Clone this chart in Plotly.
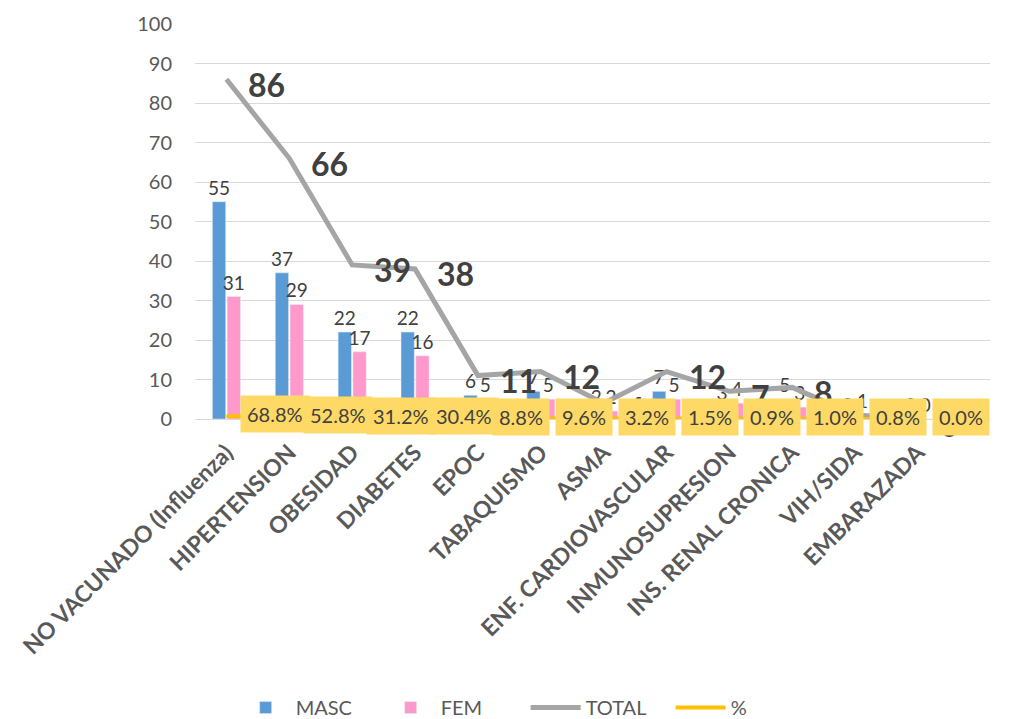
import plotly.graph_objects as go

categories = ["NO VACUNADO (Influenza)", "HIPERTENSION", "OBESIDAD", "DIABETES", "EPOC",
              "TABAQUISMO", "ASMA", "ENF. CARDIOVASCULAR", "INMUNOSUPRESION",
              "INS. RENAL CRONICA", "VIH/SIDA", "EMBARAZADA"]
masc = [55, 37, 22, 22, 6, 7, 2, 7, 3, 5, 0, 0]
fem = [31, 29, 17, 16, 5, 5, 2, 5, 4, 3, 1, 0]
total = [86, 66, 39, 38, 11, 12, 4, 12, 7, 8, 1, 0]
pct = [68.8, 52.8, 31.2, 30.4, 8.8, 9.6, 3.2, 1.5, 0.9, 1.0, 0.8, 0.0]
y_ticks = [0, 10, 20, 30, 40, 50, 60, 70, 80, 90, 100]

FONT = "Lato, 'Open Sans', sans-serif"
TXT = "#404040"
AX = "#595959"

fig = go.Figure()
fig.add_trace(go.Bar(x=categories, y=masc, name="MASC", marker_color="#5B9BD5",
                     text=masc, textposition="outside", cliponaxis=False, constraintext="none",
                     textfont=dict(size=19, color=TXT, family=FONT)))
fig.add_trace(go.Bar(x=categories, y=fem, name="FEM", marker_color="#FF99CC",
                     text=fem, textposition="outside", cliponaxis=False, constraintext="none",
                     textfont=dict(size=19, color=TXT, family=FONT)))
fig.add_trace(go.Scatter(x=categories, y=total, name="TOTAL", mode="lines",
                         line=dict(color="#A5A5A5", width=5)))
fig.add_trace(go.Scatter(x=categories, y=[p / 100 for p in pct], name="%", mode="lines",
                         line=dict(color="#FFC000", width=4)))

annotations = []
for c, t in zip(categories, total):
    annotations.append(dict(x=c, y=t, xref="x", yref="y", text=f"<b>{t}</b>",
                            showarrow=False, xanchor="left", yanchor="middle",
                            xshift=20, yshift=-5,
                            font=dict(size=32, color=TXT, family=FONT)))
for c, p in zip(categories, pct):
    annotations.append(dict(x=c, y=p / 100, xref="x", yref="y", text=f"{p:.1f}%",
                            showarrow=False, xanchor="left", yanchor="middle",
                            xshift=14, yshift=2, bgcolor="#FFD966", borderpad=6,
                            font=dict(size=20, color=TXT, family=FONT)))

fig.update_layout(
    width=1015, height=719,
    margin=dict(l=187, r=33, t=16, b=308),
    paper_bgcolor="white", plot_bgcolor="white",
    barmode="group", bargap=0.53, bargroupgap=0.1,
    font=dict(family=FONT, color=TXT),
    showlegend=True,
    legend=dict(orientation="h", xref="container", yref="container",
                x=0.51, xanchor="center", y=0.027, yanchor="middle",
                entrywidth=80, entrywidthmode="pixels",
                font=dict(size=20, color=AX, family=FONT), itemwidth=50),
    annotations=annotations,
)
fig.update_yaxes(range=[0, 100], tickvals=y_ticks, showgrid=True, gridcolor="#D9D9D9",
                 gridwidth=1, zeroline=False, showline=False, automargin=False,
                 tickfont=dict(size=20, color=AX, family=FONT),
                 ticklabelstandoff=22)
fig.update_xaxes(tickangle=-45, showline=True, linecolor="#D9D9D9", linewidth=1,
                 automargin=False, ticklabelstandoff=10,
                 tickfont=dict(size=23, color=AX, family=FONT),
                 tickprefix="<b>", ticksuffix="</b>")

fig.write_html("out.html")
